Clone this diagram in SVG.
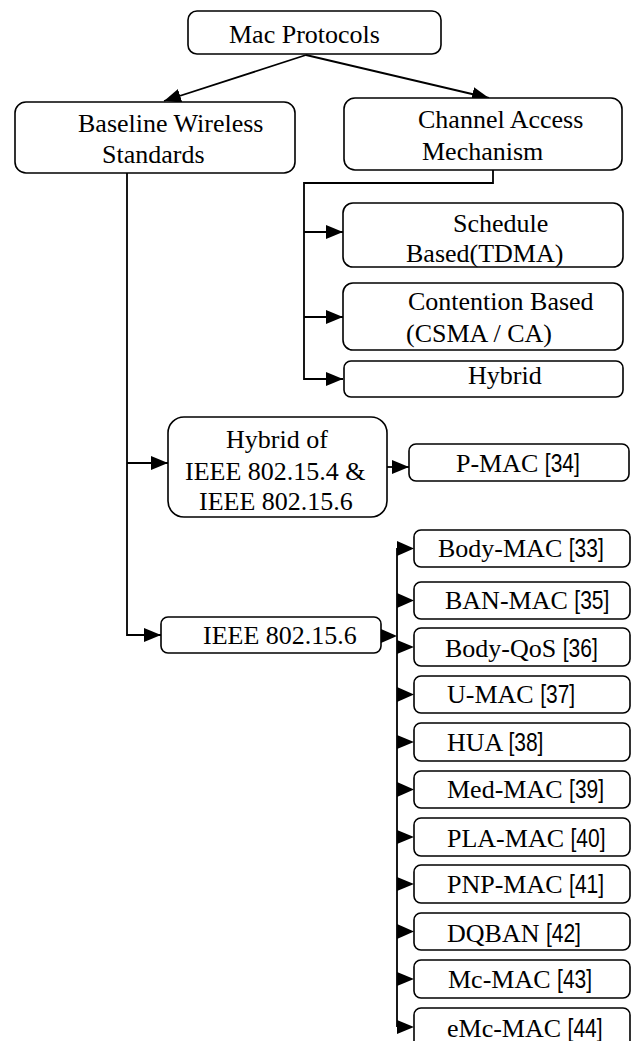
<svg xmlns="http://www.w3.org/2000/svg" width="636" height="1041" viewBox="0 0 636 1041">
<style>
.box{fill:#fff;stroke:#000;stroke-width:1.6}
.t{font-family:"Liberation Serif","Times New Roman",serif;font-size:26px;fill:#000}
.n{font-family:"Liberation Sans Narrow","Liberation Sans",Arial,sans-serif;font-size:26.5px}
.ln{fill:none;stroke:#000;stroke-width:1.8}
.tri{fill:#000}
</style>
<defs>
<marker id="ah" markerUnits="userSpaceOnUse" markerWidth="17" markerHeight="14" refX="17" refY="7" orient="auto">
<path d="M0,0 L17,7 L0,14 z" fill="#000"/>
</marker>
</defs>
<g id="connectors">
<line class="ln" x1="306" y1="55" x2="164" y2="101" marker-end="url(#ah)"/>
<line class="ln" x1="306" y1="55" x2="489" y2="98" marker-end="url(#ah)"/>
<polyline class="ln" points="493,170 493,183 304,183 304,379 343,379" marker-end="url(#ah)"/>
<line class="ln" x1="304" y1="232" x2="343" y2="232" marker-end="url(#ah)"/>
<line class="ln" x1="304" y1="317" x2="343" y2="317" marker-end="url(#ah)"/>
<polyline class="ln" points="127,173 127,635 161,635" marker-end="url(#ah)"/>
<line class="ln" x1="127" y1="463" x2="168" y2="463" marker-end="url(#ah)"/>
<line class="ln" x1="387" y1="467" x2="409" y2="467" marker-end="url(#ah)"/>
<polygon class="tri" points="381,629 397,636 381,643"/>
<line class="ln" x1="397" y1="548" x2="397" y2="1027"/>
<polygon class="tri" points="397,541 414,548.5 397,556"/>
<polygon class="tri" points="397,593 414,600.5 397,608"/>
<polygon class="tri" points="397,640 414,647 397,654"/>
<polygon class="tri" points="397,687 414,694.5 397,702"/>
<polygon class="tri" points="397,735 414,742 397,749"/>
<polygon class="tri" points="397,782 414,789.5 397,797"/>
<polygon class="tri" points="397,830 414,837 397,844"/>
<polygon class="tri" points="397,877 414,884 397,891"/>
<polygon class="tri" points="397,924 414,931.5 397,939"/>
<polygon class="tri" points="397,972 414,979 397,986"/>
<polygon class="tri" points="397,1020 414,1027 397,1034"/>
</g>
<g id="mac"><rect class="box" x="188" y="11" width="253" height="43" rx="9"/><text class="t" x="229" y="43">Mac Protocols</text></g>
<g id="baseline"><rect class="box" x="15" y="102" width="280" height="71" rx="11"/><text class="t" x="78" y="132">Baseline Wireless</text><text class="t" x="102" y="163">Standards</text></g>
<g id="channel"><rect class="box" x="344" y="98" width="278" height="72" rx="11"/><text class="t" x="418" y="128">Channel Access</text><text class="t" x="422" y="160">Mechanism</text></g>
<g id="schedule"><rect class="box" x="343" y="203" width="280" height="64" rx="10"/><text class="t" x="453" y="232">Schedule</text><text class="t" x="406" y="262">Based(TDMA)</text></g>
<g id="contention"><rect class="box" x="343" y="283" width="280" height="67" rx="10"/><text class="t" x="408" y="310">Contention Based</text><text class="t" x="406" y="342">(CSMA / CA)</text></g>
<g id="hybrid"><rect class="box" x="344" y="361" width="279" height="36" rx="7"/><text class="t" x="468" y="384">Hybrid</text></g>
<g id="hybridof"><rect class="box" x="168" y="417" width="219" height="100" rx="16"/><text class="t" x="226" y="448">Hybrid of</text><text class="t" x="185" y="480">IEEE 802.15.4 &amp;</text><text class="t" x="199" y="510">IEEE 802.15.6</text></g>
<g id="pmac"><rect class="box" x="409" y="444" width="220" height="37" rx="7"/><text class="t" x="456" y="472">P-MAC <tspan class="n" textLength="35" lengthAdjust="spacingAndGlyphs">[34]</tspan></text></g>
<g id="ieee"><rect class="box" x="161" y="617" width="220" height="36" rx="7"/><text class="t" x="203" y="644">IEEE 802.15.6</text></g>
<g id="bodymac"><rect class="box" x="414" y="530" width="216" height="37" rx="7"/><text class="t" x="438" y="557">Body-MAC <tspan class="n" textLength="35" lengthAdjust="spacingAndGlyphs">[33]</tspan></text></g>
<g id="banmac"><rect class="box" x="414" y="582" width="216" height="37" rx="7"/><text class="t" x="445" y="609">BAN-MAC <tspan class="n" textLength="35" lengthAdjust="spacingAndGlyphs">[35]</tspan></text></g>
<g id="bodyqos"><rect class="box" x="414" y="628" width="216" height="38" rx="7"/><text class="t" x="445" y="657">Body-QoS <tspan class="n" textLength="35" lengthAdjust="spacingAndGlyphs">[36]</tspan></text></g>
<g id="umac"><rect class="box" x="414" y="676" width="216" height="37" rx="7"/><text class="t" x="447" y="703">U-MAC <tspan class="n" textLength="35" lengthAdjust="spacingAndGlyphs">[37]</tspan></text></g>
<g id="hua"><rect class="box" x="414" y="723" width="216" height="38" rx="7"/><text class="t" x="447" y="751">HUA <tspan class="n" textLength="35" lengthAdjust="spacingAndGlyphs">[38]</tspan></text></g>
<g id="medmac"><rect class="box" x="414" y="771" width="216" height="37" rx="7"/><text class="t" x="447" y="798">Med-MAC <tspan class="n" textLength="35" lengthAdjust="spacingAndGlyphs">[39]</tspan></text></g>
<g id="plamac"><rect class="box" x="414" y="818" width="216" height="38" rx="7"/><text class="t" x="447" y="847">PLA-MAC <tspan class="n" textLength="35" lengthAdjust="spacingAndGlyphs">[40]</tspan></text></g>
<g id="pnpmac"><rect class="box" x="414" y="865" width="216" height="38" rx="7"/><text class="t" x="447" y="893">PNP-MAC <tspan class="n" textLength="35" lengthAdjust="spacingAndGlyphs">[41]</tspan></text></g>
<g id="dqban"><rect class="box" x="414" y="913" width="216" height="37" rx="7"/><text class="t" x="447" y="942">DQBAN <tspan class="n" textLength="35" lengthAdjust="spacingAndGlyphs">[42]</tspan></text></g>
<g id="mcmac"><rect class="box" x="414" y="960" width="216" height="38" rx="7"/><text class="t" x="448" y="988">Mc-MAC <tspan class="n" textLength="35" lengthAdjust="spacingAndGlyphs">[43]</tspan></text></g>
<g id="emcmac"><rect class="box" x="414" y="1008" width="216" height="40" rx="7"/><text class="t" x="447" y="1037">eMc-MAC <tspan class="n" textLength="35" lengthAdjust="spacingAndGlyphs">[44]</tspan></text></g>
</svg>
